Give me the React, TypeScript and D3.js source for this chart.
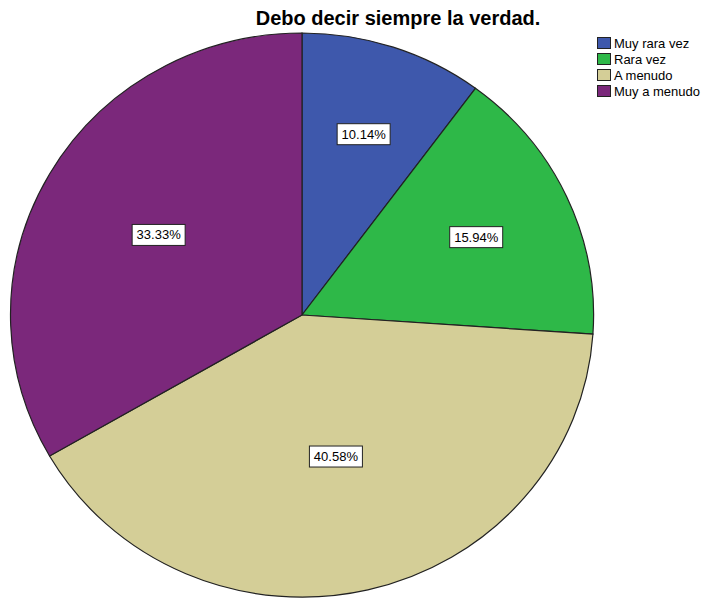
import React from "react";
import * as d3 from "d3";

const categories = ["Muy rara vez", "Rara vez", "A menudo", "Muy a menudo"];
const percents = [10.14, 15.94, 40.58, 33.33];
const colors = ["#3E58AC", "#2EB848", "#D4CE97", "#7B287B"];
const title = "Debo decir siempre la verdad.";

export default function App() {
  const W = 705, H = 600;
  const cx = 302, cy = 315, rx = 291.5, ry = 282;
  const pie = d3.pie<number>().sort(null).value((d) => d);
  const arcs = pie(percents);
  const arc = d3.arc<d3.PieArcDatum<number>>().innerRadius(0).outerRadius(1);
  const fmt = (v: number) => v.toFixed(2) + "%";
  return (
    <svg width={W} height={H} style={{ position: "absolute", left: 0, top: 0, fontFamily: "'Liberation Sans', Arial, sans-serif" }}>
      <rect width={W} height={H} fill="#fff" />
      <text x={398} y={25} textAnchor="middle" fontSize={20} fontWeight="bold" fill="#000">{title}</text>
      <g transform={`translate(${cx},${cy}) scale(${rx},${ry})`}>
        {arcs.map((a, i) => (
          <path key={i} d={arc(a) || ""} fill={colors[i]} stroke="#222" strokeWidth={1.2} vectorEffect="non-scaling-stroke" />
        ))}
      </g>
      {arcs.map((a, i) => {
        const alpha = a.endAngle - a.startAngle;
        const mid = (a.startAngle + a.endAngle) / 2;
        const dist = (4 * Math.sin(alpha / 2)) / (3 * alpha) * 1.03;
        const x = cx + Math.sin(mid) * dist * rx;
        const y = cy - Math.cos(mid) * dist * ry;
        const label = fmt(percents[i]);
        const bw = 53, bh = 21;
        return (
          <g key={i}>
            <rect x={x - bw / 2} y={y - bh / 2} width={bw} height={bh} fill="#fff" stroke="#222" strokeWidth={1} />
            <text x={x} y={y + 4.5} textAnchor="middle" fontSize={13} fill="#000">{label}</text>
          </g>
        );
      })}
      {categories.map((c, i) => (
        <g key={c} transform={`translate(597,${37 + i * 16})`}>
          <rect x={0.5} y={0.5} width={13} height={11} fill={colors[i]} stroke="#222" strokeWidth={1} />
          <text x={17} y={10.5} fontSize={13} fill="#000">{c}</text>
        </g>
      ))}
    </svg>
  );
}
